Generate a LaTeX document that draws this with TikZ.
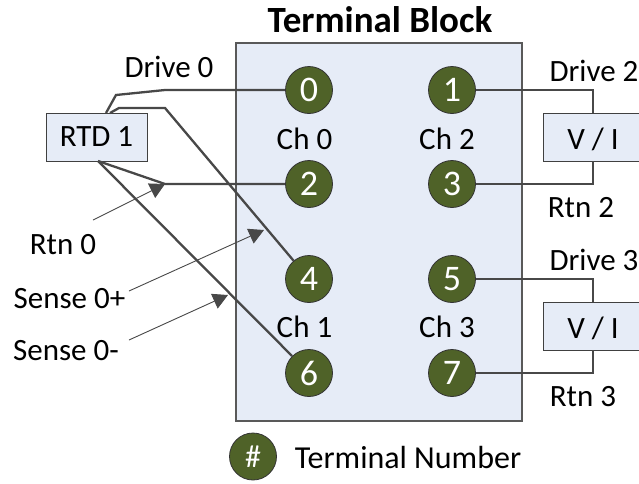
\documentclass[tikz,border=0pt]{standalone}
\usepackage{fontspec}
\setmainfont{Carlito}
\usetikzlibrary{arrows.meta}
\definecolor{blockfill}{HTML}{E6ECF7}
\definecolor{termfill}{HTML}{4F6228}
\definecolor{wirecol}{HTML}{484848}
\tikzset{
  x=1pt,y=-1pt,
  term/.style={circle,draw=black!80,line width=0.8pt,fill=termfill,text=white,minimum size=47pt,inner sep=0pt,font=\fontsize{36}{36}\selectfont},
  box/.style={draw=black!75,line width=0.9pt,fill=blockfill,inner sep=0pt,font=\fontsize{31}{31}\selectfont},
  lbl/.style={inner sep=0pt,font=\fontsize{31}{31}\selectfont,text=black},
  wire/.style={draw=wirecol,line width=2.3pt,line join=miter},
  pointer/.style={draw=wirecol,line width=0.9pt,-{Triangle[length=15pt,width=16pt,fill=wirecol]}}
}
\begin{document}
\begin{tikzpicture}
\useasboundingbox (0,0) rectangle (639,483);
\path[clip] (0,0) rectangle (639,483);
\node[box,draw=black!65,line width=1.2pt,minimum width=286pt,minimum height=378pt] (block) at (379,232) {};
\node[box,minimum width=101pt,minimum height=48pt] (rtd) at (96.5,137) {RTD 1};
\node[box,minimum width=101pt,minimum height=48pt] (vi2) at (593.5,137) {};
\node[box,minimum width=101pt,minimum height=48pt] (vi3) at (593.5,326) {};
\node[lbl] (vi2t) at (593,139) {V / I};
\node[lbl] (vi3t) at (593,328) {V / I};
% wire junctions
\coordinate (ja) at (106,113);
\coordinate (ja1) at (116,95);
\coordinate (ja2) at (165,90);
\coordinate (jb) at (110,113);
\coordinate (jb1) at (119,108);
\coordinate (jb2) at (165,108);
\coordinate (jc) at (98,161);
\coordinate (jc1) at (165,184);
\coordinate (jr2a) at (593,90);
\coordinate (jr2b) at (593,184);
\coordinate (jr3a) at (593,279);
\coordinate (jr3b) at (593,373);
\coordinate (p0s) at (93,220);
\coordinate (p1s) at (129,291);
\coordinate (p1e) at (264,230);
\coordinate (p2s) at (129,340);
\coordinate (p2e) at (228,295);
\node[term] (t0) at (309,90) {0};
\node[term] (t1) at (452,90) {1};
\node[term] (t2) at (309,184) {2};
\node[term] (t3) at (452,184) {3};
\node[term] (t4) at (309,279) {4};
\node[term] (t5) at (452,279) {5};
\node[term] (t6) at (309,373) {6};
\node[term] (t7) at (452,373) {7};
\node[term] (legend) at (253,456.5) {\fontsize{32}{32}\selectfont\#};
% labels
\node[inner sep=0pt,font=\fontsize{37}{37}\selectfont\bfseries] (title) at (380,20) {Terminal Block};
\node[lbl] (d0) at (169,67) {Drive 0};
\node[lbl] (d2) at (594,71) {Drive 2};
\node[lbl] (d3) at (594,260) {Drive 3};
\node[lbl] (r2) at (581,208) {Rtn 2};
\node[lbl] (r3) at (583,397) {Rtn 3};
\node[lbl] (r0) at (63,245) {Rtn 0};
\node[lbl] (sp) at (69.5,299) {Sense 0+};
\node[lbl] (sm) at (66,351) {Sense 0-};
\node[lbl] (c0) at (304.5,139) {Ch 0};
\node[lbl] (c2) at (447,139) {Ch 2};
\node[lbl] (c1) at (304.5,327) {Ch 1};
\node[lbl] (c3) at (447,327) {Ch 3};
\node[lbl,font=\fontsize{32}{32}\selectfont] (tn) at (408,457) {Terminal Number};
\draw[wire] (ja) -- (ja1) -- (ja2) -- (t0.west);
\draw[wire] (jb) -- (jb1) -- (jb2) -- (t4);
\draw[wire] (jc) -- (jc1) -- (t2.west);
\draw[wire] (jc) -- (t6);
\draw[wire] (t1.east) -- (jr2a) -- (vi2t|-vi2.north);
\draw[wire] (t3.east) -- (jr2b) -- (vi2t|-vi2.south);
\draw[wire] (t5.east) -- (jr3a) -- (vi3t|-vi3.north);
\draw[wire] (t7.east) -- (jr3b) -- (vi3t|-vi3.south);
\draw[pointer] (p0s) -- (jc1);
\draw[pointer] (p1s) -- (p1e);
\draw[pointer] (p2s) -- (p2e);
\end{tikzpicture}
\end{document}
